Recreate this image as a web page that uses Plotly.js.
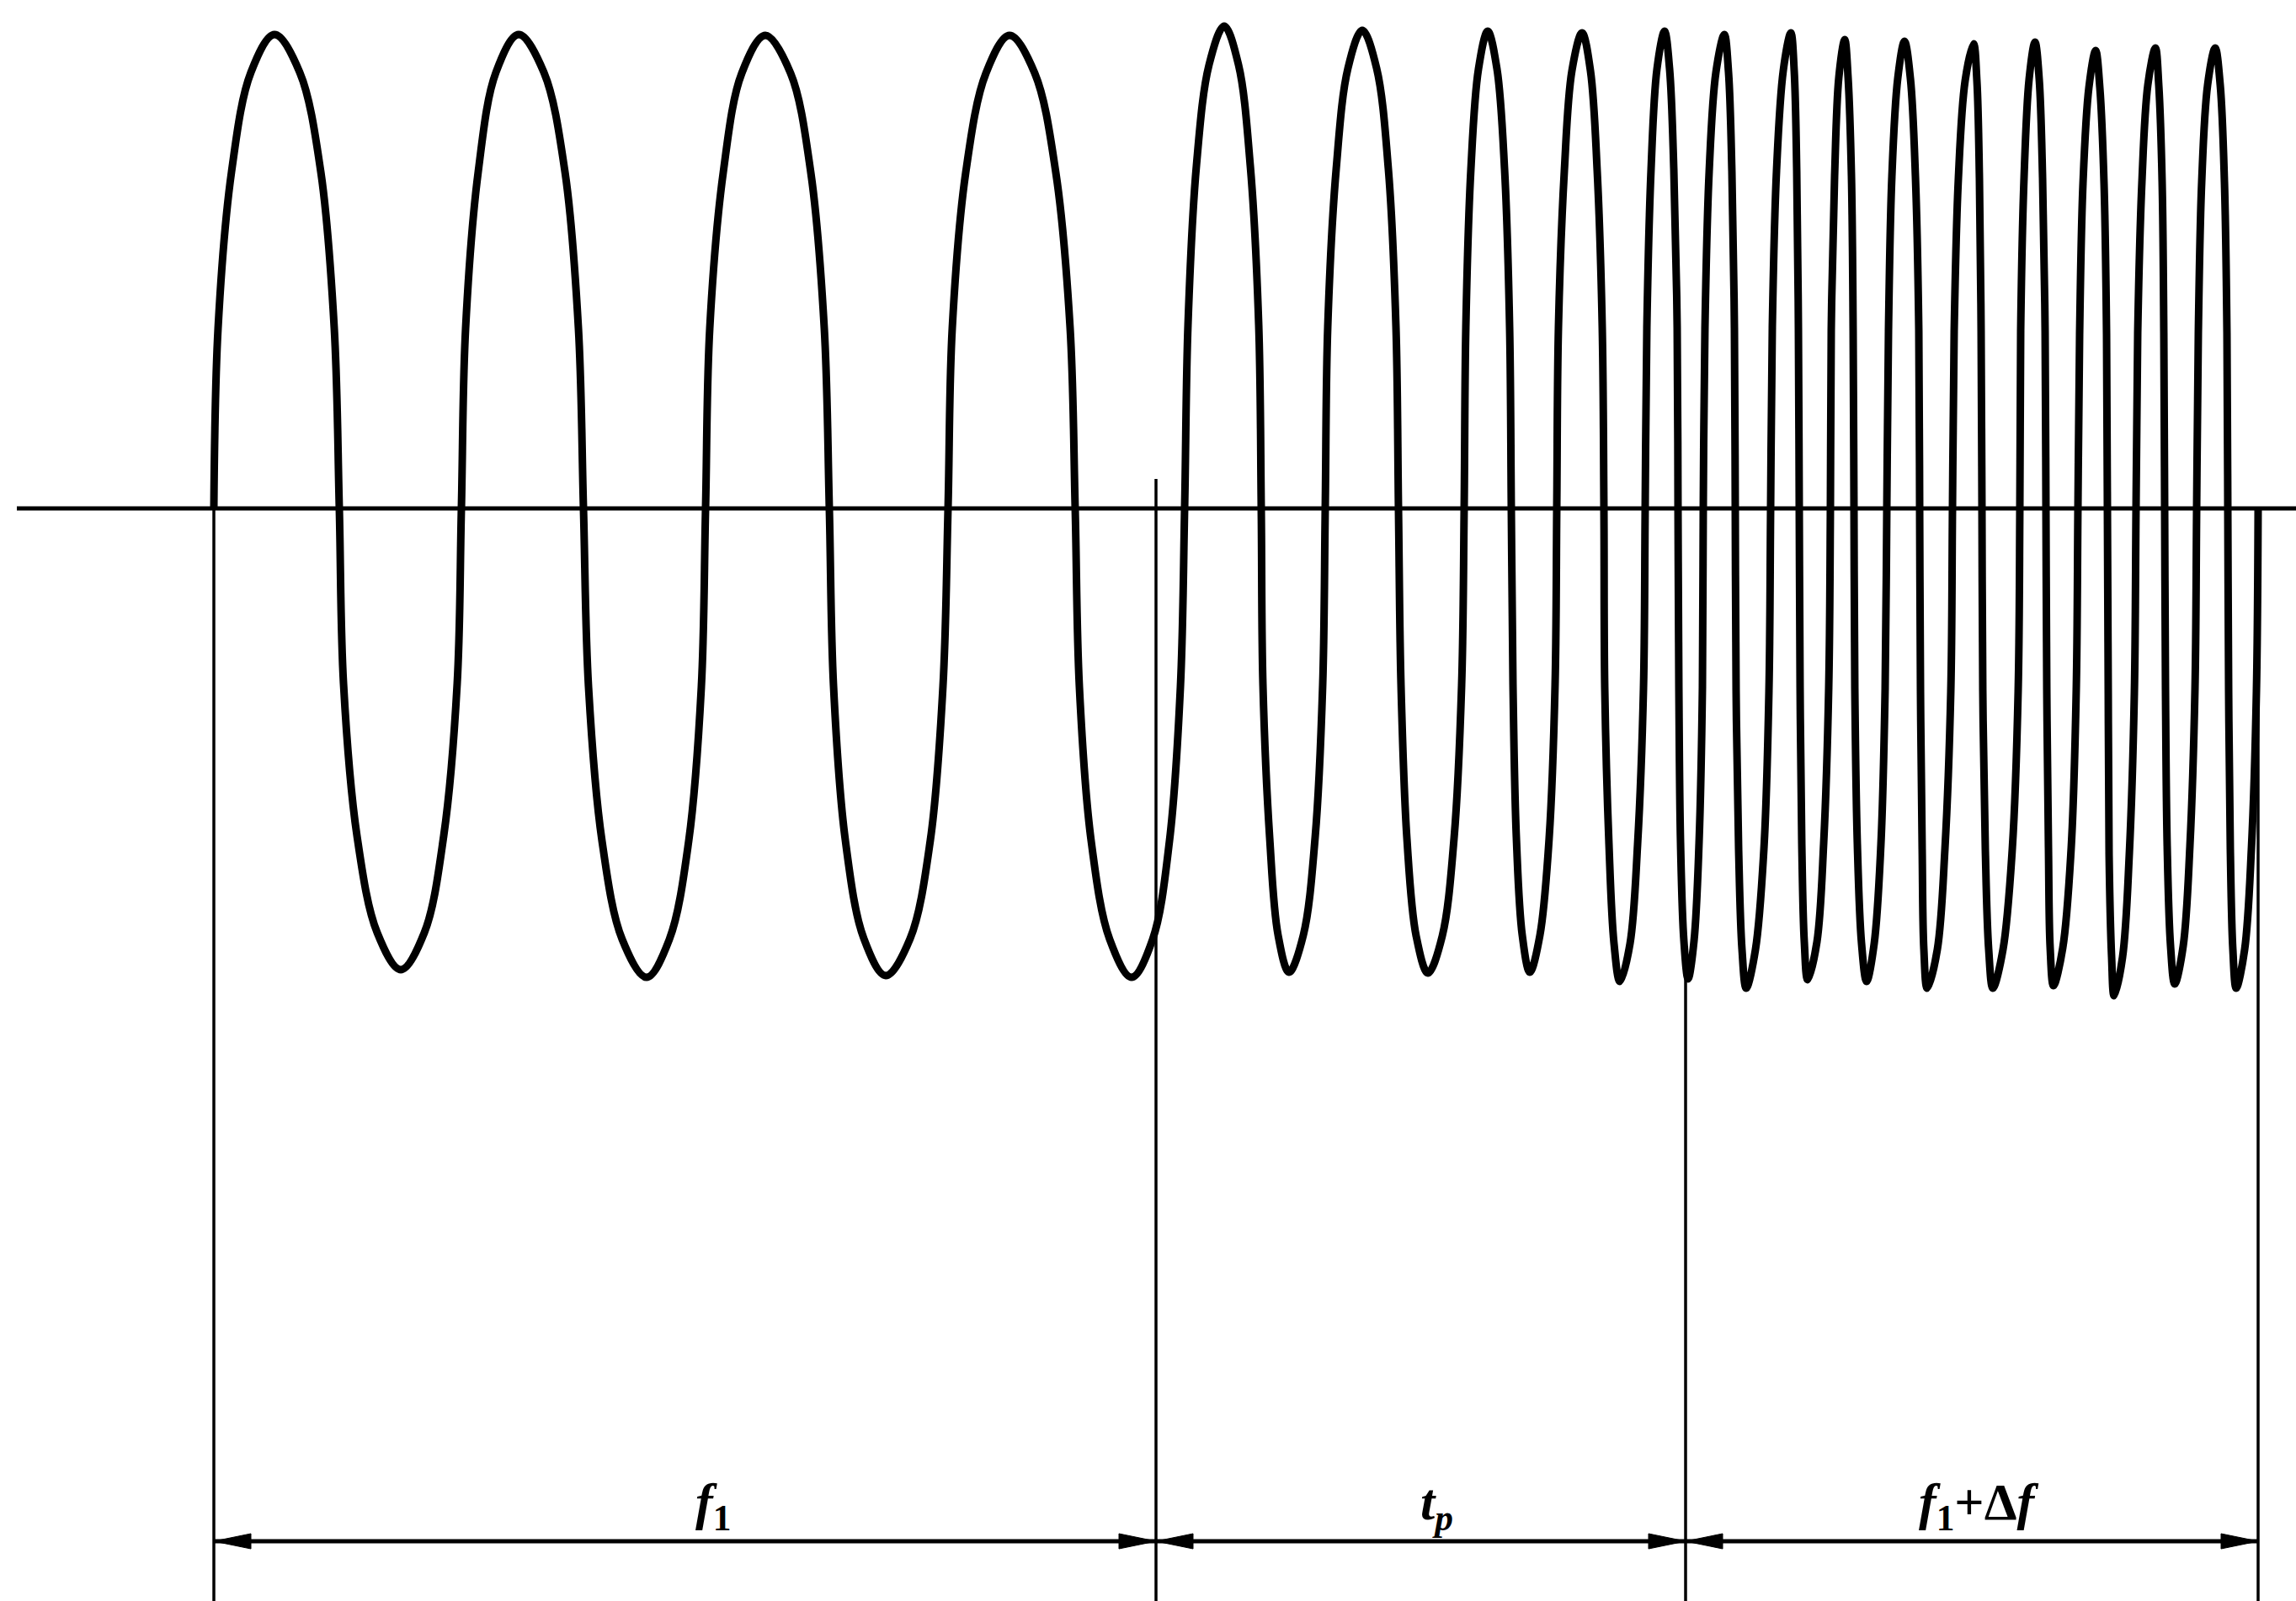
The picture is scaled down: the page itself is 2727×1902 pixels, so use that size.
<!DOCTYPE html>
<html><head><meta charset="utf-8">
<script src="https://cdn.plot.ly/plotly-3.0.1.min.js"></script>
<style>html,body{margin:0;padding:0;background:#fff;overflow:hidden}</style>
</head><body><div id="chart" style="width:2727px;height:1902px"></div>
<script>
// Waveform points read/: for every half-cycle the zero crossing,
// three points on the way up, the peak/trough and three points on the way down.
// time in drawing units, amplitude in drawing units (0 = axis)
const waveT = [
  254, 259, 275, 298, 326, 356, 381, 397,
  403, 408, 424, 448, 476, 504, 527, 543,
  548, 553, 568, 589, 616, 646, 671, 687,
  693, 699, 715, 739, 768, 795, 818, 833,
  838, 843, 859, 881, 909, 939, 963, 979,
  985, 990, 1004, 1026, 1052, 1081, 1105, 1120,
  1126, 1131, 1147, 1171, 1199, 1229, 1254, 1271,
  1277, 1282, 1296, 1318, 1344, 1369, 1389, 1402,
  1407, 1411, 1421, 1436, 1454, 1471, 1485, 1495,
  1498, 1500, 1508, 1518, 1531, 1548, 1562, 1571,
  1574, 1577, 1587, 1601, 1618, 1635, 1649, 1658,
  1661, 1664, 1671, 1682, 1696, 1713, 1727, 1736,
  1739, 1741, 1747, 1756, 1767, 1778, 1787, 1793,
  1795, 1797, 1801, 1808, 1817, 1829, 1840, 1847,
  1849, 1851, 1858, 1867, 1879, 1889, 1897, 1903,
  1905, 1906, 1911, 1917, 1924, 1936, 1945, 1952,
  1954, 1956, 1961, 1968, 1977, 1983, 1988, 1992,
  1993, 1994, 1996, 2000, 2005, 2012, 2018, 2022,
  2023, 2025, 2030, 2038, 2048, 2053, 2057, 2060,
  2061, 2062, 2065, 2069, 2074, 2085, 2095, 2101,
  2103, 2105, 2110, 2118, 2127, 2131, 2134, 2136,
  2137, 2138, 2140, 2143, 2147, 2158, 2166, 2172,
  2174, 2175, 2179, 2184, 2191, 2195, 2199, 2201,
  2202, 2203, 2206, 2211, 2217, 2226, 2234, 2239,
  2241, 2243, 2247, 2254, 2262, 2269, 2275, 2279,
  2280, 2281, 2283, 2285, 2289, 2301, 2310, 2317,
  2319, 2321, 2326, 2334, 2344, 2348, 2351, 2353,
  2354, 2355, 2358, 2362, 2367, 2379, 2390, 2397,
  2399, 2400, 2404, 2410, 2417, 2422, 2426, 2429,
  2430, 2431, 2433, 2435, 2439, 2450, 2460, 2466,
  2468, 2470, 2474, 2481, 2489, 2494, 2499, 2502,
  2503, 2504, 2505, 2508, 2511, 2521, 2529, 2535,
  2537, 2539, 2544, 2551, 2560, 2564, 2568, 2570,
  2571, 2572, 2574, 2578, 2583, 2593, 2601, 2607,
  2609, 2611, 2615, 2622, 2631, 2637, 2642, 2645,
  2646, 2647, 2649, 2652, 2656, 2666, 2674, 2680,
  2682
];
const waveAmp = [
  0, 214, 400, 518, 563, 518, 400, 214,
  0, -208, -389, -504, -548, -504, -389, -208,
  0, 214, 400, 518, 563, 518, 400, 214,
  0, -212, -395, -512, -557, -512, -395, -212,
  0, 214, 399, 517, 562, 517, 399, 214,
  0, -211, -394, -511, -555, -511, -394, -211,
  0, 214, 399, 517, 562, 517, 399, 214,
  0, -212, -395, -512, -557, -512, -395, -212,
  0, 218, 407, 527, 573, 527, 407, 218,
  0, -209, -391, -507, -551, -507, -391, -209,
  0, 216, 403, 523, 568, 523, 403, 216,
  0, -210, -392, -508, -552, -508, -392, -210,
  0, 215, 403, 522, 567, 522, 403, 215,
  0, -209, -391, -507, -551, -507, -391, -209,
  0, 215, 401, 520, 565, 520, 401, 215,
  0, -214, -399, -517, -562, -517, -399, -214,
  0, 215, 403, 522, 567, 522, 403, 215,
  0, -212, -397, -514, -559, -514, -397, -212,
  0, 214, 400, 518, 563, 518, 400, 214,
  0, -217, -405, -524, -570, -524, -405, -217,
  0, 215, 401, 520, 565, 520, 401, 215,
  0, -213, -398, -515, -560, -515, -398, -213,
  0, 212, 395, 512, 557, 512, 395, 212,
  0, -214, -399, -517, -562, -517, -399, -214,
  0, 211, 394, 511, 555, 511, 394, 211,
  0, -217, -405, -524, -570, -524, -405, -217,
  0, 210, 392, 508, 552, 508, 392, 210,
  0, -217, -405, -524, -570, -524, -405, -217,
  0, 211, 393, 510, 554, 510, 393, 211,
  0, -215, -403, -522, -567, -522, -403, -215,
  0, 207, 386, 500, 544, 500, 386, 207,
  0, -220, -411, -533, -579, -533, -411, -220,
  0, 208, 388, 503, 547, 503, 388, 208,
  0, -215, -401, -520, -565, -520, -401, -215,
  0, 208, 388, 503, 547, 503, 388, 208,
  0, -217, -405, -524, -570, -524, -405, -217,
  0
];
const axisT = [20, 2727];                      // extent of the horizontal axis line
const boundaryT = [254, 1373, 2002, 2682];     // section boundaries
const boundaryTop = [0, 35, -556, 0];          // where each boundary line starts
const segmentLabels = ['<i>f</i><sub>1</sub>', '<i>t</i><sub><i>p</i></sub>', '<i>f</i><sub>1</sub>+Δ<i>f</i>'];
const labelT = [847, 1706, 2350];

// layout constants
const xRange = [0, 2727];
const yRange = [-1298, 604];
const arrowAmp = -1227;
const labelAmp = -1184;
const headLen = 44, headHalf = 9;

const traces = [];
traces.push({x: axisT, y: [0, 0], mode: 'lines', line: {color: '#000', width: 5}, hoverinfo: 'skip'});
const bx = [], by = [];
boundaryT.forEach((t, i) => { bx.push(t, t, null); by.push(boundaryTop[i], yRange[0], null); });
traces.push({x: bx, y: by, mode: 'lines', line: {color: '#000', width: 3.5}, hoverinfo: 'skip'});
traces.push({x: waveT, y: waveAmp, mode: 'lines',
  line: {color: '#000', width: 9, shape: 'spline', smoothing: 1, simplify: false}, hoverinfo: 'skip'});
const ax = [], ay = [], hx = [], hy = [];
for (let i = 0; i < boundaryT.length - 1; i++) {
  const a = boundaryT[i], b = boundaryT[i + 1];
  ax.push(a, b, null); ay.push(arrowAmp, arrowAmp, null);
  hx.push(a, a + headLen, a + headLen, a, null);
  hy.push(arrowAmp, arrowAmp + headHalf, arrowAmp - headHalf, arrowAmp, null);
  hx.push(b, b - headLen, b - headLen, b, null);
  hy.push(arrowAmp, arrowAmp + headHalf, arrowAmp - headHalf, arrowAmp, null);
}
traces.push({x: ax, y: ay, mode: 'lines', line: {color: '#000', width: 5}, hoverinfo: 'skip'});
traces.push({x: hx, y: hy, mode: 'lines', fill: 'toself', fillcolor: '#000', line: {color: '#000', width: 1}, hoverinfo: 'skip'});

const annotations = segmentLabels.map((txt, i) => ({
  x: labelT[i], y: labelAmp, xref: 'x', yref: 'y', text: txt, showarrow: false,
  xanchor: 'center', yanchor: 'middle',
  font: {family: 'Liberation Serif, Times New Roman, serif', size: 62, color: '#000', weight: 'bold'}
}));

const layout = {
  width: 2727, height: 1902,
  margin: {l: 0, r: 0, t: 0, b: 0, pad: 0},
  paper_bgcolor: '#fff', plot_bgcolor: '#fff',
  showlegend: false,
  xaxis: {range: xRange, visible: false, fixedrange: true},
  yaxis: {range: yRange, visible: false, fixedrange: true},
  annotations: annotations
};
Plotly.newPlot('chart', traces, layout, {staticPlot: true, displayModeBar: false});
</script>
</body></html>
